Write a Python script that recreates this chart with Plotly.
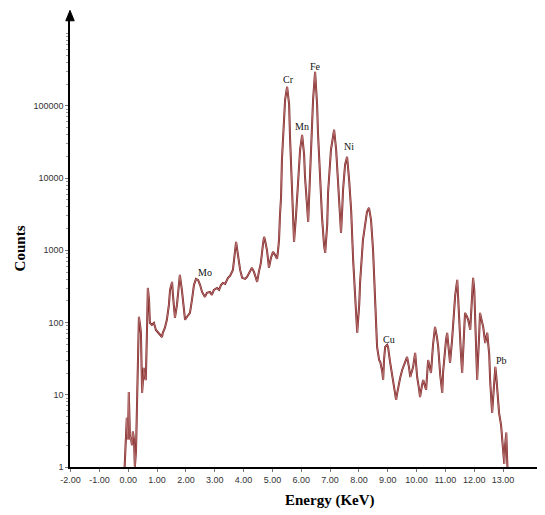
import math
import plotly.graph_objects as go

# Spectrum: energy (keV) and counts
energy = [
    -0.15, -0.08, -0.05, -0.01, 0.02, 0.06, 0.09, 0.13, 0.16, 0.20, 0.23, 0.27, 0.30, 0.34, 0.37,
    0.41, 0.44, 0.48, 0.51, 0.54, 0.58, 0.61, 0.65, 0.68, 0.72, 0.75, 0.82, 0.89, 0.96, 1.03,
    1.10, 1.17, 1.20, 1.27, 1.34, 1.41, 1.45, 1.52, 1.55, 1.62, 1.69, 1.76, 1.79, 1.86, 1.93,
    1.97, 2.04, 2.14, 2.21, 2.28, 2.35, 2.42, 2.49, 2.56, 2.66, 2.73, 2.83, 2.90, 2.97, 3.08,
    3.15, 3.22, 3.29, 3.36, 3.46, 3.53, 3.63, 3.67, 3.74, 3.77, 3.81, 3.88, 3.95, 4.05, 4.12,
    4.22, 4.29, 4.36, 4.43, 4.47, 4.53, 4.60, 4.67, 4.71, 4.74, 4.81, 4.85, 4.88, 4.95, 5.02,
    5.09, 5.16, 5.19, 5.23, 5.26, 5.30, 5.33, 5.37, 5.44, 5.51, 5.58, 5.61, 5.68, 5.75, 5.82,
    5.89, 5.96, 6.03, 6.10, 6.13, 6.20, 6.24, 6.27, 6.34, 6.41, 6.48, 6.55, 6.58, 6.65, 6.72,
    6.79, 6.83, 6.90, 6.93, 7.03, 7.14, 7.21, 7.28, 7.35, 7.38, 7.42, 7.45, 7.52, 7.59, 7.66,
    7.73, 7.80, 7.87, 7.94, 8.01, 8.04, 8.14, 8.21, 8.28, 8.35, 8.42, 8.49, 8.56, 8.60, 8.63,
    8.70, 8.74, 8.81, 8.84, 8.87, 8.91, 8.98, 9.01, 9.08, 9.12, 9.19, 9.22, 9.29, 9.33, 9.36,
    9.43, 9.50, 9.60, 9.67, 9.74, 9.78, 9.85, 9.88, 9.95, 10.02, 10.09, 10.12, 10.19, 10.23, 10.30,
    10.33, 10.40, 10.47, 10.50, 10.57, 10.64, 10.71, 10.75, 10.82, 10.89, 10.92, 10.95, 11.02, 11.06, 11.13,
    11.16, 11.23, 11.27, 11.34, 11.41, 11.44, 11.48, 11.54, 11.58, 11.65, 11.68, 11.75, 11.79, 11.86, 11.93,
    11.96, 12.00, 12.03, 12.07, 12.10, 12.17, 12.20, 12.27, 12.31, 12.38, 12.45, 12.52, 12.55, 12.62, 12.69,
    12.73, 12.76, 12.79, 12.86, 12.93, 12.97, 13.00, 13.04, 13.07, 13.11, 13.15, 13.18,
]
counts = [
    0.6, 3.3, 4.8, 2.4, 10.9, 2.4, 2.6, 2.0, 3.1, 2.4, 1.0, 1.7, 5.6, 22, 120,
    93, 72, 10.6, 20.7, 23.5, 17.1, 16.0, 79, 301, 206, 99, 93, 99, 79, 74,
    67, 63, 72, 84, 109, 175, 283, 365, 241, 116, 175, 354, 456, 283, 140,
    109, 120, 136, 206, 332, 402, 389, 332, 265, 226, 257, 265, 241, 283, 301,
    283, 332, 354, 343, 415, 442, 535, 785, 1307, 1080, 810, 535, 415, 402, 428,
    502, 571, 502, 389, 365, 502, 669, 1189, 1534, 1394, 1013, 736, 571, 785, 951,
    864, 760, 951, 1394, 2902, 5495, 17870, 42270, 121100, 183300, 103300, 37200, 4990, 1307, 3093,
    8590, 24600, 39650, 20960, 10400, 4256, 2473, 4990, 24600, 121100, 295800, 103300, 42270, 9440, 2902,
    1189, 920, 2248, 6240, 24600, 46550, 24600, 8590, 3093, 1741, 3629, 6871, 15240, 19670, 9440,
    3629, 736, 226, 72, 175, 354, 1394, 2397, 3404, 3867, 2636, 1013, 226, 120, 45.9,
    30.3, 28.5, 20.7, 16.0, 30.3, 45.9, 49, 45.9, 28.5, 22, 14.6, 11.7, 8.5, 10.6, 12.8,
    17.1, 22, 28.5, 33.4, 23.5, 17.6, 22, 24.3, 37.9, 17.6, 11.7, 9.3, 13.7, 16.0, 12.8,
    11.7, 30.3, 23.5, 20, 49, 87, 61, 45.9, 18.8, 10.6, 20.7, 30.3, 57, 72, 41.7,
    27.6, 57, 99, 241, 389, 206, 87, 35.6, 20, 79, 136, 120, 109, 79, 241,
    415, 283, 136, 49, 16.0, 67, 136, 102, 87, 52, 72, 35.6, 16.0, 5.6, 13.7,
    24.3, 18.8, 12.8, 5.6, 3.8, 2.4, 1.7, 1.1, 2.0, 3.0, 1.0, 0.6,
]

# Peak labels: element, energy, count level of the label
peak_names = ["Mo", "Cr", "Mn", "Fe", "Ni", "Cu", "Pb"]
peak_energy = [2.66, 5.55, 6.03, 6.48, 7.66, 9.05, 12.93]
peak_counts = [490, 234000, 51000, 355000, 27000, 59, 30]

x_ticks = list(range(-2, 14))
x_tick_text = ["%.2f" % v for v in x_ticks]
y_ticks = [1, 10, 100, 1000, 10000, 100000]
y_tick_text = ["1", "10", "100", "1000", "10000", "100000"]

fig = go.Figure()
fig.add_trace(go.Scatter(x=energy, y=counts, mode="lines",
                         line=dict(color="#7a1e1e", width=2.0), hoverinfo="skip"))
fig.add_trace(go.Scatter(x=energy, y=counts, mode="lines",
                         line=dict(color="#d9a0a0", width=0.6), hoverinfo="skip"))

annotations = []
for n, e, c in zip(peak_names, peak_energy, peak_counts):
    annotations.append(dict(x=e, y=math.log10(c), xref="x", yref="y", text=n, showarrow=False,
                            font=dict(family="Liberation Serif", size=10, color="#111")))
annotations.append(dict(x=-0.106, y=0.483, xref="paper", yref="paper", text="<b>Counts</b>",
                        textangle=-90, showarrow=False, xanchor="center", yanchor="middle",
                        font=dict(family="Liberation Serif", size=15, color="#000")))
annotations.append(dict(x=0.553, y=-0.073, xref="paper", yref="paper", text="<b>Energy (KeV)</b>",
                        showarrow=False, xanchor="center", yanchor="middle",
                        font=dict(family="Liberation Serif", size=15, color="#000")))

# page has an 8px body margin, so the figure is sized / offset to compensate
fig.update_layout(
    width=537, height=507,
    margin=dict(l=62, r=5, t=6, b=48),
    paper_bgcolor="white", plot_bgcolor="white",
    showlegend=False,
    annotations=annotations,
    shapes=[dict(type="path", xref="paper", yref="paper",
                 path="M -0.009 0.985 L 0.009 0.985 L 0 1.008 Z",
                 fillcolor="black", line=dict(color="black", width=1))],
    xaxis=dict(range=[-2.02, 14.28], showgrid=False, zeroline=False,
               showline=True, linecolor="black", linewidth=1.5,
               tickvals=x_ticks, ticktext=x_tick_text, ticks="outside", ticklen=3,
               tickcolor="#777", tickfont=dict(family="Liberation Sans", size=9, color="#333")),
    yaxis=dict(type="log", range=[0, 6.27], showgrid=False, zeroline=False,
               showline=True, linecolor="black", linewidth=1.5,
               tickvals=y_ticks, ticktext=y_tick_text, ticks="outside", ticklen=3,
               tickcolor="#777", tickfont=dict(family="Liberation Sans", size=9, color="#333"),
               minor=dict(ticks="outside", ticklen=2, tickcolor="#999", dtick="D1", showgrid=False)),
)

fig.write_html("out.html")
